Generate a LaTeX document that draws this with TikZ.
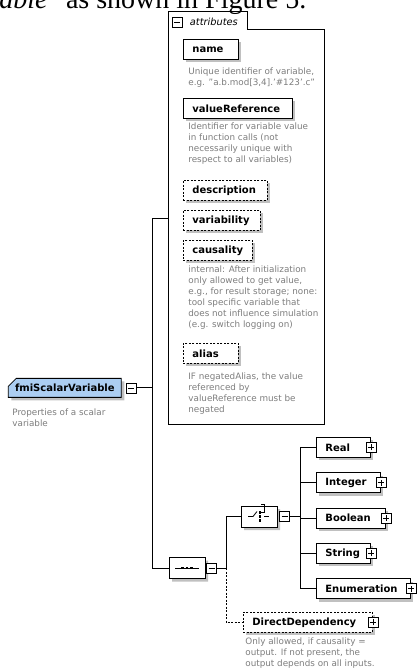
\documentclass[tikz,border=0pt]{standalone}
\usepackage{fontspec}
\setmainfont{DejaVu Sans}
\newfontfamily\docfont{Liberation Serif}
\usetikzlibrary{positioning,shapes.misc,shadows}
\definecolor{descgray}{RGB}{125,125,125}
\definecolor{globalblue}{RGB}{172,206,242}
\definecolor{shadowgray}{RGB}{192,192,192}

\begin{document}
\begin{tikzpicture}[x=1pt,y=-1pt,line width=0.8pt]
		\tikzstyle{shadowed} = [drop shadow={shadow xshift=3pt, shadow yshift=-3pt, fill=shadowgray, opacity=1}]
		\tikzstyle{elem} = [rectangle, draw, fill=white, shadowed, font=\bfseries\fontsize{10}{12}\selectfont, inner xsep=9pt, inner ysep=0pt, minimum height=20pt, anchor=north west, align=left]
		\tikzstyle{optelem} = [elem, dash pattern=on 2pt off 1.5pt]
		\tikzstyle{desc} = [text=descgray, font=\fontsize{8.8}{10.9}\selectfont, align=left, inner sep=0pt, anchor=north west]
		\tikzstyle{iconbox} = [rectangle, draw, fill=white, line width=0.6pt, minimum size=10pt, inner sep=0pt]
		\tikzstyle{minusbox} = [iconbox, path picture={\draw ([xshift=2pt]path picture bounding box.west) -- ([xshift=-2pt]path picture bounding box.east);}]
		\tikzstyle{plusbox} = [iconbox, path picture={\draw ([xshift=2pt]path picture bounding box.west) -- ([xshift=-2pt]path picture bounding box.east); \draw ([yshift=2pt]path picture bounding box.south) -- ([yshift=-2pt]path picture bounding box.north);}]
		\tikzstyle{compositor} = [chamfered rectangle, chamfered rectangle xsep=5pt, chamfered rectangle ysep=5pt, draw, fill=white, shadowed, minimum width=36pt, minimum height=21pt, inner sep=0pt]
		\tikzstyle{link} = [draw]
		\tikzstyle{optlink} = [draw, dash pattern=on 2pt off 1.5pt]

		\useasboundingbox (0,0) rectangle (417,671);

		% text of the page above the figure
		\node[anchor=base west, inner sep=0pt, font=\docfont\fontsize{28}{32}\selectfont] (caption) at (-1,9) {\textit{able}" as shown in Figure 5.};

		% attributes group
		\node[anchor=north west, minimum width=156pt, minimum height=413pt, inner sep=0pt] (attr) at (168,11) {};
		\draw (attr.north west) -- ++(79,0) -- ++(0,18) -| (attr.south east) -- (attr.south west) -- cycle;
		\node[minusbox] (attrminus) at (177,22) {};
		\node[anchor=west, inner sep=0pt, font=\itshape\fontsize{9.8}{11}\selectfont] (attrlabel) at (189.5,21.5) {attributes};

		\node[elem, text width=37pt] (name) at (183,39) {name};
		\node[desc] (namedesc) at (188,67.5) {Unique identifier of variable,\\e.g. "a.b.mod[3,4].'\#123'.c"};
		\node[elem, text width=91pt] (valueref) at (183,98) {valueReference};
		\node[desc] (valuerefdesc) at (188,122.5) {Identifier for variable value\\in function calls (not\\necessarily unique with\\respect to all variables)};
		\node[optelem, text width=66pt] (description) at (183,180) {description};
		\node[optelem, text width=59pt] (variability) at (183,210) {variability};
		\node[optelem, text width=51pt] (causality) at (183,240) {causality};
		\node[desc] (causalitydesc) at (188,265.5) {internal: After initialization\\only allowed to get value,\\e.g., for result storage; none:\\tool specific variable that\\does not influence simulation\\(e.g. switch logging on)};
		\node[optelem, text width=37pt] (alias) at (183,343) {alias};
		\node[desc] (aliasdesc) at (188,372.5) {IF negatedAlias, the value\\referenced by\\valueReference must be\\negated};

		% the element itself
		\node[chamfered rectangle, chamfered rectangle corners=north west, chamfered rectangle xsep=4pt, chamfered rectangle ysep=4pt, draw, fill=globalblue, shadowed, font=\bfseries\fontsize{10}{12}\selectfont, minimum width=113pt, minimum height=19pt, inner sep=0pt, anchor=north west] (fmi) at (12,382) {fmiScalarVariable};
		\node[minusbox, right=4pt of fmi] (fmiminus) {};
		\node[desc] (fmidesc) at (12,408.5) {Properties of a scalar\\variable};

		% sequence and choice
		\node[compositor] (seq) at (187,568) {};
		\draw ([xshift=-12pt]seq.center) -- ([xshift=12pt]seq.center);
		\foreach \dx in {-4.5,0,4.5}
			\fill ([xshift=\dx pt]seq.center) +(-1.4,-1.4) rectangle +(1.4,1.4);
		\node[minusbox, right=1pt of seq] (seqminus) {};

		\node[compositor] (choice) at (259,516.5) {};
		\draw ([xshift=-11pt]choice.center) -- ++(5,0) -- ++(4,-5);
		\foreach \dy in {-4,0,4}
			\fill ([xshift=1pt]choice.center) +(-1.2,\dy-1.2) rectangle +(1.2,\dy+1.2);
		\draw ([xshift=2pt,yshift=4pt]choice.center) -- ++(3,0) -- ++(0,-8) -- ++(-3,0);
		\draw ([xshift=5pt]choice.center) -- ++(5,0);
		\node[minusbox, right=2pt of choice] (choiceminus) {};

		\node[elem, text width=36pt] (real) at (316,437) {Real};
		\node[elem, text width=46pt, below=14.5pt of real.south west, anchor=north west] (integer) {Integer};
		\node[elem, text width=51pt, below=14.5pt of integer.south west, anchor=north west] (boolean) {Boolean};
		\node[elem, text width=36pt, below=14.5pt of boolean.south west, anchor=north west] (string) {String};
		\node[elem, text width=76pt, below=14.5pt of string.south west, anchor=north west] (enumeration) {Enumeration};

		\node[optelem, text width=111pt] (dd) at (243,612) {DirectDependency};
		\node[desc] (dddesc) at (245,637.5) {Only allowed, if causality =\\output. If not present, the\\output depends on all inputs.};

		\foreach \n in {real,integer,boolean,string,enumeration,dd}
			\node[plusbox] (\n plus) at (\n.east) {};

		% connectors
		\coordinate (jmain) at (152,0);
		\coordinate (jseq) at (226,0);
		\coordinate (jchoice) at (300,0);
		\path[link] (fmiminus.east) -- (fmiminus.east -| jmain);
		\path[link] (attr.west) -| (jmain |- seq.west) -- (seq.west);
		\path[link] (seqminus.east) -- (seqminus.east -| jseq) |- (choice.west);
		\path[optlink] (seqminus.east -| jseq) |- (dd.west);
		\path[link] (choiceminus.east) -- (choiceminus.east -| jchoice);
		\foreach \n in {real,integer,boolean,string,enumeration}
			\path[link] (jchoice |- real.west) |- (\n.west);
\end{tikzpicture}
\end{document}
